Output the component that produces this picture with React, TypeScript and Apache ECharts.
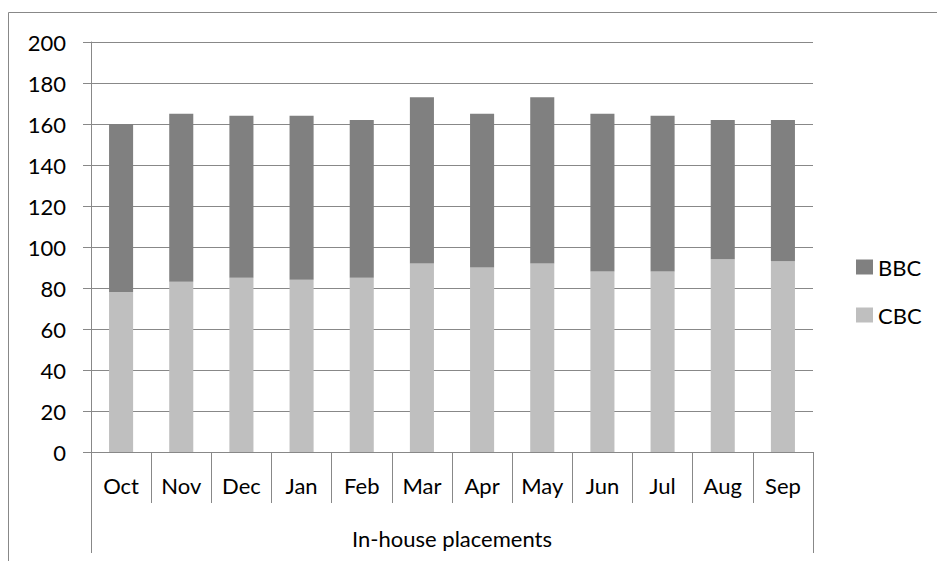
import React, { useEffect, useRef } from "react";
import * as echarts from "echarts";

const months = ["Oct", "Nov", "Dec", "Jan", "Feb", "Mar", "Apr", "May", "Jun", "Jul", "Aug", "Sep"];
const cbcValues = [78, 83, 85, 84, 85, 92, 90, 92, 88, 88, 94, 93];
const bbcValues = [82, 82, 79, 80, 77, 81, 75, 81, 77, 76, 68, 69];
const groupLabel = "In-house placements";
const seriesNames = ["BBC", "CBC"];

const FONT = "Lato, 'Open Sans', sans-serif";
const LINE = "#888888";

export default function App() {
  const ref = useRef<HTMLDivElement>(null);
  useEffect(() => {
    if (!ref.current) return;
    const chart = echarts.init(ref.current, null, { renderer: "svg" });
    const gridLeft = 91;
    const gridRight = 124;
    const gridTop = 42;
    const gridBottom = 109;
    const W = 937;
    const H = 561;
    const axisY = H - gridBottom;
    const plotRight = W - gridRight;
    chart.setOption({
      animation: false,
      textStyle: { fontFamily: FONT },
      grid: { left: gridLeft, right: gridRight, top: gridTop, bottom: gridBottom, containLabel: false },
      legend: {
        orient: "vertical",
        left: 851,
        top: 251,
        data: seriesNames,
        icon: "rect",
        itemWidth: 17,
        itemHeight: 15,
        itemGap: 26,
        textStyle: { fontFamily: FONT, fontSize: 22, color: "#000" },
      },
      xAxis: {
        type: "category",
        data: months,
        axisLine: { show: true, lineStyle: { color: LINE, width: 1 } },
        axisTick: { show: true, interval: 0, length: 51, inside: false, lineStyle: { color: LINE } },
        axisLabel: { interval: 0, margin: 22, fontFamily: FONT, fontSize: 22, color: "#000" },
        splitLine: { show: false },
      },
      yAxis: {
        type: "value",
        min: 0,
        max: 200,
        interval: 20,
        axisLine: { show: true, lineStyle: { color: LINE, width: 1 } },
        axisTick: { show: true, length: 8, lineStyle: { color: LINE } },
        axisLabel: { margin: 25, fontFamily: FONT, fontSize: 22, color: "#000" },
        splitLine: { show: true, lineStyle: { color: LINE, width: 1 } },
      },
      series: [
        {
          name: "CBC",
          type: "bar",
          stack: "total",
          data: cbcValues,
          barWidth: "40%",
          itemStyle: { color: "#bfbfbf" },
        },
        {
          name: "BBC",
          type: "bar",
          stack: "total",
          data: bbcValues,
          barWidth: "40%",
          itemStyle: { color: "#808080" },
        },
      ],
      graphic: [
        {
          type: "rect",
          shape: { x: 8.5, y: 12.5, width: 1000, height: 700 },
          style: { fill: "none", stroke: LINE, lineWidth: 1 },
          silent: true,
        },
        {
          type: "line",
          shape: { x1: gridLeft + 0.5, y1: axisY, x2: gridLeft + 0.5, y2: 553 },
          style: { stroke: LINE, lineWidth: 1 },
          silent: true,
        },
        {
          type: "line",
          shape: { x1: plotRight + 0.5, y1: axisY, x2: plotRight + 0.5, y2: 553 },
          style: { stroke: LINE, lineWidth: 1 },
          silent: true,
        },
        {
          type: "text",
          x: (gridLeft + plotRight) / 2,
          y: 538,
          style: {
            text: groupLabel,
            fontFamily: FONT,
            fontSize: 22,
            fill: "#000",
            align: "center",
            verticalAlign: "middle",
          },
          silent: true,
        },
      ],
    });
    return () => chart.dispose();
  }, []);
  return (
    <div
      ref={ref}
      style={{ position: "fixed", left: 0, top: 0, width: 937, height: 561, background: "#fff" }}
    />
  );
}
